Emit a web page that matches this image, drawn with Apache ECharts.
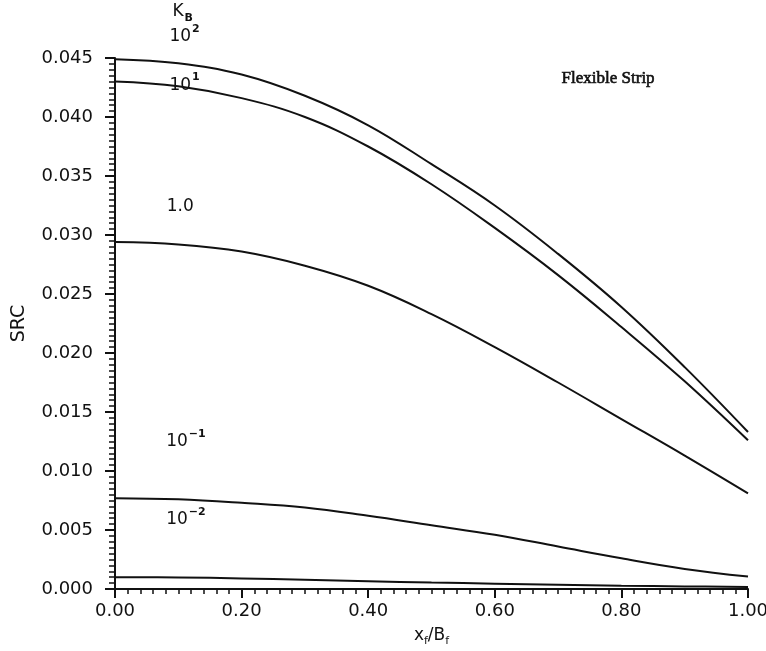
<!DOCTYPE html>
<html>
<head>
<meta charset="utf-8">
<script src="https://cdn.jsdelivr.net/npm/echarts@6/dist/echarts.min.js"></script>
<style>
html, body { margin: 0; padding: 0; background: #fff; }
#main { width: 766px; height: 651px; }
</style>
</head>
<body>
<div id="main"></div>
<script>
// x/B positions where the curves were read
var xPos = [0.0, 0.1, 0.2, 0.3, 0.4, 0.5, 0.6, 0.7, 0.8, 0.9, 1.0];

// SRC values, one array per K_B
var kb100 = [0.0449, 0.04455, 0.0436, 0.0418, 0.0393, 0.0360, 0.0325, 0.0284, 0.0239, 0.0188, 0.0133];
var kb10 = [0.0430, 0.0426, 0.0416, 0.0400, 0.0375, 0.0343, 0.0306, 0.0266, 0.0222, 0.0176, 0.0126];
var kb1 = [0.0294, 0.0292, 0.0286, 0.0274, 0.0257, 0.0233, 0.0205, 0.0175, 0.0144, 0.0113, 0.0081];
var kb01 = [0.0077, 0.0076, 0.0073, 0.0069, 0.0062, 0.0054, 0.0046, 0.0036, 0.0026, 0.0017, 0.00105];
var kb001 = [0.0010, 0.00098, 0.0009, 0.00078, 0.00066, 0.00055, 0.00045, 0.00036, 0.00028, 0.00022, 0.00018];

// curve labels: [x, y, main text, superscript]
var curveLabels = [
	[0.110, 0.0468, '10', '2'],
	[0.110, 0.0427, '10', '1'],
	[0.103, 0.0324, '1.0', ''],
	[0.112, 0.01250, '10', '\u22121'],
	[0.112, 0.00590, '10', '\u22122']
];

var ink = '#111';
var font = 'DejaVu Sans';
var myChart = echarts.init(document.getElementById('main'));

function pairs(ys) {
	var out = [];
	for (var i = 0; i < xPos.length; i++) {
		out.push([xPos[i], ys[i]]);
	}
	return out;
}

function curve(name, ys) {
	return {
		name: name,
		type: 'line',
		data: pairs(ys),
		smooth: 0.4,
		symbol: 'none',
		lineStyle: { color: ink, width: 2 },
		animation: false
	};
}

var option = {
	backgroundColor: '#fff',
	grid: { left: 115, right: 18, top: 58, bottom: 62, outerBoundsMode: 'none' },
	xAxis: {
		type: 'value',
		min: 0, max: 1, interval: 0.2,
		name: 'x{s|f}/B{s|f}',
		nameLocation: 'middle',
		nameGap: 36,
		nameTextStyle: {
			color: ink, fontFamily: font, fontSize: 17, lineHeight: 22,
			rich: { s: { fontSize: 11, fontFamily: font, color: ink, verticalAlign: 'bottom', lineHeight: 12 } }
		},
		axisLine: { lineStyle: { color: ink, width: 2 } },
		axisTick: { length: 9, lineStyle: { color: ink, width: 2 } },
		minorTick: { show: true, splitNumber: 10, length: 5, lineStyle: { color: ink, width: 1.5 } },
		splitLine: { show: false },
		axisLabel: {
			color: ink, fontFamily: font, fontSize: 18, margin: 13,
			formatter: function (v) { return v.toFixed(2); }
		}
	},
	yAxis: {
		type: 'value',
		min: 0, max: 0.045, interval: 0.005,
		name: 'SRC',
		nameLocation: 'middle',
		nameGap: 86,
		nameTextStyle: { color: ink, fontFamily: font, fontSize: 19 },
		axisLine: { show: true, lineStyle: { color: ink, width: 2 } },
		axisTick: { show: true, length: 10, lineStyle: { color: ink, width: 2 } },
		minorTick: { show: true, splitNumber: 10, length: 6, lineStyle: { color: ink, width: 1.5 } },
		splitLine: { show: false },
		axisLabel: {
			color: ink, fontFamily: font, fontSize: 18, margin: 22,
			formatter: function (v) { return v.toFixed(3); }
		}
	},
	series: [
		curve('100', kb100),
		curve('10', kb10),
		curve('1.0', kb1),
		curve('0.1', kb01),
		curve('0.01', kb001)
	]
};

myChart.setOption(option);

// annotations placed from data coordinates
var texts = [];
curveLabels.forEach(function (c) {
	var p = myChart.convertToPixel({ gridIndex: 0 }, [c[0], c[1]]);
	texts.push({
		type: 'text', x: p[0], y: p[1],
		style: {
			text: c[3] ? '{m|' + c[2] + '}{u|' + c[3] + '}' : '{m|' + c[2] + '}',
			align: 'center', verticalAlign: 'middle',
			rich: {
				m: { fontSize: 17, fontFamily: font, fill: ink, lineHeight: 26 },
				u: { fontSize: 11, fontFamily: font, fontWeight: 'bold', fill: ink, verticalAlign: 'top', lineHeight: 12, padding: [0, 0, 0, 1] }
			}
		}
	});
});
var kp = myChart.convertToPixel({ gridIndex: 0 }, [0.107, 0.0489]);
texts.push({
	type: 'text', x: kp[0], y: kp[1],
	style: {
		text: '{m|K}{d|B}',
		align: 'center', verticalAlign: 'middle',
		rich: {
			m: { fontSize: 17, fontFamily: font, fill: ink, lineHeight: 24 },
			d: { fontSize: 11, fontFamily: font, fontWeight: 'bold', fill: ink, verticalAlign: 'bottom', lineHeight: 12, padding: [0, 0, 0, 1] }
		}
	}
});
var fp = myChart.convertToPixel({ gridIndex: 0 }, [0.779, 0.0433]);
texts.push({
	type: 'text', x: fp[0], y: fp[1],
	style: {
		text: 'Flexible Strip',
		align: 'center', verticalAlign: 'middle',
		font: '17px "Liberation Serif"', fill: ink, stroke: ink, lineWidth: 0.6
	}
});
myChart.setOption({ graphic: texts });
</script>
</body>
</html>
